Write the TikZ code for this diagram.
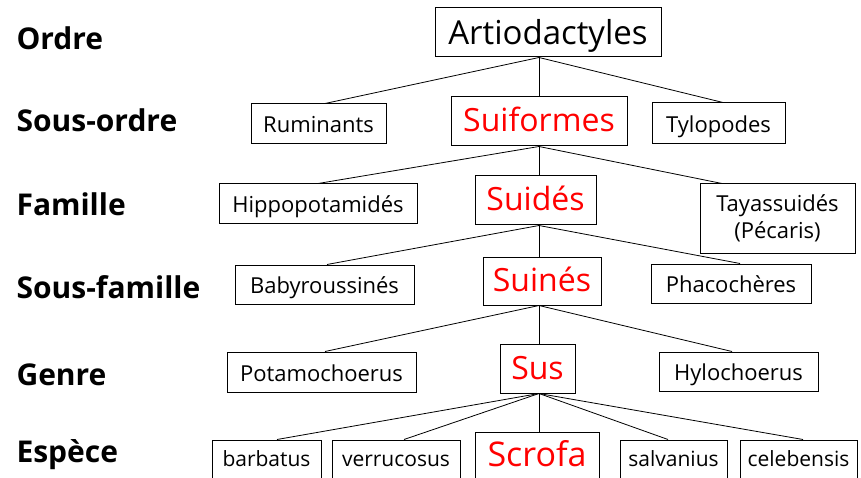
\documentclass[tikz,border=0pt]{standalone}
\usepackage{fontspec}
\setmainfont{Open Sans}
\begin{document}
\begin{tikzpicture}[x=1pt,y=-1pt,
  box/.style={draw, line width=1pt, inner sep=0pt, text height=18pt, text depth=0pt, font=\fontsize{22}{27}\selectfont},
  redbox/.style={box, text=red, text height=21pt, font=\fontsize{32}{38}\selectfont},
  lowbox/.style={box, text height=12pt, font=\fontsize{21}{26}\selectfont},
  lvl/.style={anchor=base west, font=\bfseries\fontsize{30}{36}\selectfont},
  edge/.style={line width=0.8pt}]
\useasboundingbox (0,0) rectangle (861,478);
\clip (0,0) rectangle (861,478);
% level labels
\node[lvl] (l1) at (13,50) {Ordre};
\node[lvl] (l2) at (13,132) {Sous-ordre};
\node[lvl] (l3) at (13,215) {Famille};
\node[lvl] (l4) at (13,298) {Sous-famille};
\node[lvl] (l5) at (13,385) {Genre};
\node[lvl] (l6) at (13,462) {Espèce};
% boxes
\node[box, minimum width=226pt, minimum height=49pt, text height=24pt, font=\fontsize{33}{38}\selectfont] (art) at (548,32.5) {Artiodactyles};
\node[box, minimum width=135pt, minimum height=40pt] (rum) at (318.5,124) {Ruminants};
\node[redbox, minimum width=176pt, minimum height=49pt] (suif) at (539,121.5) {Suiformes};
\node[box, minimum width=133pt, minimum height=41pt] (tylo) at (718.5,123.5) {Tylopodes};
\node[box, minimum width=198pt, minimum height=40pt] (hippo) at (318,204) {Hippopotamidés};
\node[redbox, minimum width=121pt, minimum height=49pt] (suides) at (535.5,200.5) {Suidés};
\node[draw, line width=1pt, inner sep=0pt, align=center, font=\fontsize{22}{27}\selectfont, minimum width=155pt, minimum height=69pt] (taya) at (777.5,218.5) {Tayassuidés\\(Pécaris)};
\node[box, minimum width=179pt, minimum height=39pt] (baby) at (324.5,284.5) {Babyroussinés};
\node[redbox, minimum width=118pt, minimum height=48pt] (suines) at (542,281) {Suinés};
\node[box, minimum width=160pt, minimum height=39pt] (phaco) at (731,283.5) {Phacochères};
\node[box, minimum width=189pt, minimum height=40pt] (potamo) at (321.5,372) {Potamochoerus};
\node[redbox, minimum width=75pt, minimum height=49pt] (sus) at (537.5,368.5) {Sus};
\node[box, minimum width=159pt, minimum height=39pt] (hylo) at (738.5,371.5) {Hylochoerus};
\node[lowbox, minimum width=109pt, minimum height=40pt] (barb) at (266.5,460) {barbatus};
\node[lowbox, minimum width=128pt, minimum height=40pt] (verr) at (396,460) {verrucosus};
\node[redbox, minimum width=124pt, minimum height=49pt, text height=20pt, font=\fontsize{34}{40}\selectfont] (scrofa) at (537,456.5) {Scrofa};
\node[lowbox, minimum width=107pt, minimum height=40pt] (salv) at (673.5,460) {salvanius};
\node[lowbox, minimum width=117pt, minimum height=40pt] (celeb) at (798.5,460) {celebensis};
% connectors
\draw[edge] ([xshift=-9pt]art.south) -- ([xshift=6.5pt]rum.north);
\draw[edge] ([xshift=-9pt]art.south) -- (suif.north);
\draw[edge] ([xshift=-9pt]art.south) -- ([xshift=4.5pt]tylo.north);
\draw[edge] (suif.south) -- (hippo.north);
\draw[edge] (suif.south) -- ([xshift=3.5pt]suides.north);
\draw[edge] (suif.south) -- ([xshift=-55.5pt]taya.north);
\draw[edge] ([xshift=3.5pt]suides.south) -- ([xshift=2.5pt]baby.north);
\draw[edge] ([xshift=3.5pt]suides.south) -- ([xshift=-3pt]suines.north);
\draw[edge] ([xshift=3.5pt]suides.south) -- ([xshift=9pt]phaco.north);
\draw[edge] ([xshift=-3pt]suines.south) -- ([xshift=3.5pt]potamo.north);
\draw[edge] ([xshift=-3pt]suines.south) -- ([xshift=1.5pt]sus.north);
\draw[edge] ([xshift=-3pt]suines.south) -- ([xshift=-6.5pt]hylo.north);
\draw[edge] ([xshift=1.5pt]sus.south) -- ([xshift=10.5pt]barb.north);
\draw[edge] ([xshift=1.5pt]sus.south) -- ([xshift=8pt]verr.north);
\draw[edge] ([xshift=1.5pt]sus.south) -- ([xshift=2pt]scrofa.north);
\draw[edge] ([xshift=1.5pt]sus.south) -- ([xshift=-5.5pt]salv.north);
\draw[edge] ([xshift=1.5pt]sus.south) -- ([xshift=4.5pt]celeb.north);
\end{tikzpicture}
\end{document}
